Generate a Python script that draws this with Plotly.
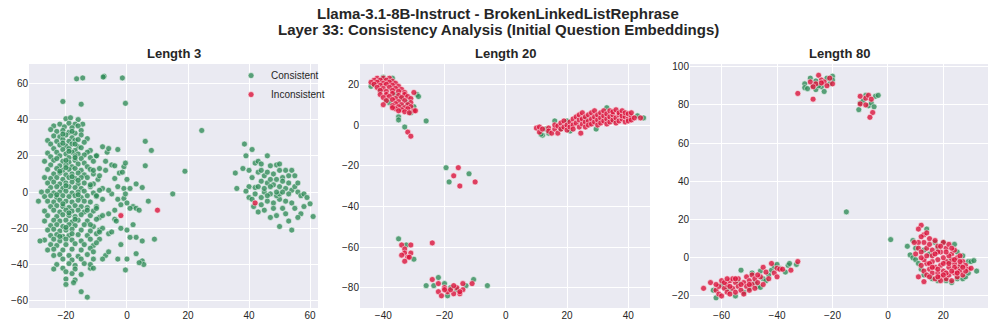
import plotly.graph_objects as go

# ---------------- DATA ----------------
panel_titles = ["Length 3", "Length 20", "Length 80"]
series_names = ["Consistent", "Inconsistent"]

len3_consistent = [
    # outliers
    (-16.5, 62.5), (-14.5, 63), (-7.5, 64), (-7.8, 63.5), (-1.5, 63), (-21, 50), (-15, 48.5), (-0.5, 49),
    (24.5, 34), (19, 11.5), (15, -1), (9, -26), (7, -5), (6, 28), (8, 23), (6, 14.5), (5, 2.5), (3, 4.5),
    # dense left cluster
    (-20, 40.5), (-18.5, 41), (-16, 40),
    (-24, 36.5), (-19, 38), (-17, 37.5), (-14.5, 37.5), (-22, 37.5),
    (-20.5, 36), (-18, 35.5), (-16, 36.5), (-25, 34.5),
    (-23, 33.5), (-21, 34), (-19, 33), (-15, 34), (-17, 32.5),
    (-24, 31), (-22, 30.5), (-20, 31.5), (-18, 30), (-15, 31.5), (-13, 29.5),
    (-26, 28.5), (-23, 28), (-21, 29), (-19, 28), (-17, 28.5), (-14, 27.5),
    (-25, 26.5), (-22, 26), (-20, 25.5), (-18, 26.5), (-16, 25), (-12, 23),
    (-24, 24), (-21, 23.5), (-19, 24), (-17, 23), (-15, 24.5), (-13, 22),
    (-26, 21.5), (-23, 22), (-20, 21), (-18, 22), (-16, 21), (-14, 20.5),
    (-25, 19.5), (-22, 20), (-19, 19), (-17, 20), (-15, 18.5), (-12, 19), (-10, 20),
    (-27, 17), (-24, 17.5), (-21, 17), (-19, 16.5), (-17, 17.5), (-14, 16), (-11, 17),
    (-25, 15), (-22, 14.5), (-20, 15), (-18, 14), (-16, 15.5), (-13, 14),
    (-26, 12.5), (-23, 13), (-21, 12), (-19, 12.5), (-17, 13), (-15, 12), (-12, 12.5), (-9, 13),
    (-24, 10), (-22, 10.5), (-20, 9.5), (-18, 10), (-16, 10.5), (-14, 9.5), (-11, 10),
    (-27, 8), (-25, 7.5), (-23, 8), (-21, 7), (-19, 8), (-17, 7.5), (-13, 8), (-9.5, 7),
    (-26, 5), (-24, 5.5), (-22, 4.5), (-20, 5), (-18, 5.5), (-16, 4.5), (-14, 5), (-11, 4.5),
    (-25, 2.5), (-23, 3), (-21, 2), (-19, 3), (-17, 2.5), (-15, 2), (-12, 3), (-8, 2),
    (-28, 0), (-26, 0.5), (-24, -0.5), (-22, 0), (-20, 0.5), (-18, -0.5), (-16, 0), (-14, 0.5), (-11, -0.5),
    (-27, -2.5), (-25, -2), (-23, -3), (-21, -2), (-19, -2.5), (-17, -2), (-15, -3), (-13, -2), (-10, -2.5),
    (-29, -5), (-26, -5), (-24, -5.5), (-22, -4.5), (-20, -5), (-18, -5.5), (-16, -4.5), (-14, -5), (-12, -5.5),
    (-25, -8), (-23, -7.5), (-21, -8), (-19, -8.5), (-17, -7.5), (-15, -8), (-13, -8.5), (-10, -8),
    (-27, -10.5), (-24, -10), (-22, -11), (-20, -10), (-18, -10.5), (-16, -10), (-14, -11), (-11, -10.5),
    (-26, -13), (-23, -13.5), (-21, -12.5), (-19, -13), (-17, -13.5), (-15, -12.5), (-12, -13), (-9, -14),
    (-27, -16), (-24, -15.5), (-22, -16), (-20, -15.5), (-18, -16.5), (-16, -15.5), (-13, -16), (-10, -15),
    (-25, -18.5), (-23, -18), (-21, -19), (-19, -18), (-17, -18.5), (-14, -18), (-11, -19),
    (-26, -21), (-24, -20.5), (-22, -21.5), (-20, -21), (-18, -20.5), (-15, -21), (-12, -21.5), (-9, -21),
    (-25, -24), (-23, -23.5), (-21, -24.5), (-19, -24), (-16, -23.5), (-13, -24), (-10, -23),
    (-27, -26.5), (-24, -26), (-22, -27), (-20, -26), (-18, -26.5), (-15, -27), (-12, -26),
    (-28.5, -27), (-25, -29), (-23, -29.5), (-20, -29), (-17, -28.5), (-14, -29), (-11, -29.5),
    (-26, -32), (-24, -31.5), (-21, -32), (-18, -31.5), (-15, -32), (-12, -31),
    (-24, -35), (-22, -34.5), (-19, -35), (-16, -35.5), (-13, -34.5),
    (-21, -37), (-18, -37.5), (-15, -37), (-11, -37),
    (-23, -40), (-19, -39.5), (-17, -40.5), (-14, -39.5),
    (-24, -42.5), (-21, -42), (-17, -42.5), (-12, -42),
    (-18, -45), (-15, -45.5), (-20, -44),
    (-20, -48), (-17, -48.5), (-20, -51), (-17.5, -50), (-15, -55), (-13, -58),
    # extra density in the core
    (-21, 27), (-19, 22.5), (-17, 19), (-20, 17.5), (-22, 11.5), (-18, 8.5), (-20, 3.5), (-16, -1.5),
    (-21, -6.5), (-19, -11.5), (-17, -15), (-20, -19.5), (-18, -23), (-22, -24.5), (-17, 26.5), (-23, 18.5),
    (-15, 8), (-23, -1.5), (-13, -10), (-21, 32), (-18, 33.5), (-16, 29), (-20, 13.5), (-16, 6.5),
    # sparse middle region
    (-10, 20), (-8, 25), (-7, 17), (-5, 15), (-3, 23.5), (-6.5, 22), (-6, 24), (-4, 14.5), (-1, 14), (-0.5, 16),
    (-9, 9), (-7, 12), (-4, 7.5), (-2.5, 10.5), (-1.5, 11), (-3, 3), (-1, 2), (0, 7), (1, 2), (-5, -1),
    (-3, -4), (-1, -3.5), (0, -6), (2, -8), (3, -9), (-0.5, -1), (1, -9), (-2, -7), (-6, -12), (-4, -15),
    (-3.5, -16), (-2, -20), (0, -21), (2, -18), (3, -25), (5, -27), (-6, -23), (-5, -22), (-8, -20), (-9, -26),
    (-2, -29), (-7, -35), (-6, -33), (-3, -37), (0, -37), (3, -34), (5, -38), (5.5, -40), (4, -39), (-0.5, -43),
    (4, -10), (1, -25), (-4, -10), (-8, -13), (-10, -28), (-11, -33), (-12, -40), (-11, -42), (-8, -37), (-9, -22),
    (-12, 4), (-10, -2), (-8, -4), (-6, 1), (-11, 12), (-9, 1), (-12, -18), (-10, -9),
    # right cluster
    (35.5, 10.5), (36, 2), (39, 20), (38.5, 26.5), (41, 23.5), (40, 12), (38, 13), (42, 16), (43, 17), (44, 15.5),
    (46, 20), (47, 14.5), (49, 15), (50, 15.5), (50, 12), (52, 12), (54, 12), (55, 9), (53, 5), (51, 8),
    (48, 10), (45, 9), (43, 11), (41, 8), (40, 3), (42, 2.5), (44, 6), (46, 5), (48, 4), (50, 3),
    (52, 2), (54, 1), (56, 0), (57, -2), (58, -1), (59, -3), (60, -6.5), (61, -13.5), (58, -8), (57, -12),
    (56, -14), (54, -21), (53, -16), (50, -19), (49, -13), (47, -14), (45, -10), (43, -11), (41.5, -8), (40, -3),
    (39, 0.5), (41, -4), (44, -3), (46, -5), (48, -6), (50, -4), (52, -5), (54, -6), (55, -9), (51, -9),
    (49, -2), (47, -1), (45, 0), (43, 3), (45, 2), (47, 7), (49, 7), (51, 6), (53, -1), (55, 3),
    (56, 5), (44, -7), (42, -1), (46, 11), (44, 12), (52, -12), (50, -1), (48, -9), (46, -2), (53, 9),
    (49, 0), (51, 0), (47, 3),
]
len3_inconsistent = [(-2, -13), (10, -10), (42, -6)]

len20_consistent = [
    (-44, 19), (-43, 20), (-41, 17), (-39, 12), (-38, 11), (-36, 15), (-34, 13), (-34, 9), (-29, 15), (-28.5, 14),
    (-35, 4), (-35, 2.5), (-33, -1), (-31, 6), (-26, 2), (-37, 23), (-32, 11), (-40, 23.5), (-30, 9),
    (12, -5), (11.5, -4.5), (16, 2), (18, -2), (21, -3), (29.5, -2), (33, 8.5), (43, 4.5), (45, 3.5), (13, -2),
    (26, 3), (35, 2), (20, 2), (14, -4),
    (-19.5, -21), (-18.5, -28), (-12, -24),
    (-35, -56), (-32.5, -59), (-30, -66),
    (-26, -79), (-22, -75), (-23.5, -79), (-10.5, -76), (-6, -79), (-20, -78), (-18, -80), (-13, -79), (-16, -81), (-19, -84),
]
len20_inconsistent = [
    (-42, 23), (-40, 23), (-38, 23),
    (-43, 22), (-41, 22), (-39, 22), (-37, 21.5),
    (-44, 21), (-42, 21), (-40, 20.5), (-38, 21), (-36, 20.5),
    (-43, 20), (-41, 19.5), (-39, 20), (-37, 19.5), (-35, 19),
    (-42, 18.5), (-40, 18), (-38, 18.5), (-36, 18), (-34, 17.5),
    (-41, 17), (-39, 16.5), (-37, 17), (-35, 16.5), (-33, 16),
    (-41, 15), (-39, 15), (-37, 15.5), (-35, 14.5), (-33, 15), (-30, 16),
    (-40, 13.5), (-38, 14), (-36, 13), (-34, 13.5), (-32, 14), (-31, 13),
    (-39, 12), (-37, 12.5), (-35, 11.5), (-33, 12), (-31, 11),
    (-36, 10.5), (-34, 10), (-32, 10),
    (-40, 10), (-37, 9.5), (-35, 9), (-33, 8.5), (-31, 9),
    (-36, 8), (-34, 7.5), (-32, 8), (-30, 7),
    (-37, 8.5), (-35, 7), (-33, 6.5), (-31.5, 6), (-29.5, 7),
    (-32, -3.5), (-31, -5.5),
    (10, -1.5), (11, -3.5), (11, -1), (12, -2), (14, -1.5), (14, -3), (15, -4), (16, -2), (16, 0),
    (17, -4), (17, -0.5), (18, 1), (18, -2), (19, 2), (19, -1), (20, 0), (20, -2.5), (21, 1.5), (21, -1),
    (22, 3), (22, 0), (22, -2), (23, 1), (23, 4), (24, -1), (24, 2.5), (24, 5), (25, 0.5), (25, 3),
    (25, 6), (26, 1.5), (26, 4), (26, -1), (27, 2), (27, 5), (27, 0), (28, 3), (28, 0.5), (28, 6),
    (29, 1.5), (29, 4), (29, 7), (30, 2.5), (30, 5), (30, 0), (31, 3.5), (31, 6), (31, 1), (32, 2),
    (32, 4.5), (32, 7), (33, 3), (33, 5.5), (33, 0.5), (34, 1.5), (34, 4), (34, 7), (35, 2.5), (35, 5),
    (35, 6.5), (36, 3.5), (36, 1), (36, 7.5), (37, 2), (37, 5), (37, 6), (38, 3), (38, 4.5), (38, 7),
    (39, 1.5), (39, 4), (39, 6), (40, 3), (40, 5.5), (40, 2), (41, 4), (41, 6), (41, 2.5), (42, 3.5),
    (44, 3.5), (24.5, -4),
    (-15.5, -21), (-17, -25), (-15, -30), (-10, -28),
    (-34, -59), (-33, -61), (-31, -59), (-33, -63), (-31, -63), (-32, -65), (-33, -67), (-34, -64),
    (-31.5, -65), (-24, -58),
    (-24, -76), (-22, -78), (-20, -80), (-22, -82), (-21, -84), (-19, -82), (-17, -83), (-18, -81),
    (-16, -80), (-14, -81), (-15, -83), (-14, -78), (-11, -78), (-20, -81), (-17, -79), (-15, -82),
]

len80_consistent = [
    (-30, 91), (-30, 89), (-28, 94), (-27, 90), (-26, 88), (-26, 92.5), (-24, 89.5), (-23, 87), (-22, 94),
    (-20, 95), (-20, 93), (-21, 91), (-29, 88.5), (-25, 90),
    (-10.5, 77.5), (-10, 81), (-8, 85), (-7, 79.5), (-6, 81), (-5, 79), (-4.5, 84.5), (-3.5, 85), (-9, 82),
    (-15, 24), (1, 9.5),
    (-63, -17), (-62, -21), (-60, -14), (-57, -17), (-55, -20), (-53, -6.5), (-52, -18), (-50, -16), (-49, -8),
    (-47, -15), (-46, -7), (-46, -15.5), (-45, -11), (-44, -12), (-43, -9), (-42, -6.5), (-41, -4.5), (-40, -3.5),
    (-37, -7.5), (-36, -4), (-35.5, -3), (-33, -3.5), (-39, -5.5), (-48, -13), (-54, -13), (-58, -16),
    (7, 6), (8, 1.5), (9, 0), (10, -1), (9, 9), (11, -3), (12, -6), (13, -9), (14, 15), (15, 2),
    (17, 8), (18, -12), (20, 8), (21, -12), (23, -13), (25, -11), (27, -11), (28, -10), (29, -8), (29, -2),
    (30, -2), (31, -1.5), (32, -7), (25, 3), (27, 1), (22, -2), (24, 7), (16, -11), (13, 4), (10, 5),
    (18, 5), (26, -5),
]
len80_inconsistent = [
    (-28, 92), (-25, 95.5), (-24, 93), (-23, 92), (-26, 91), (-27, 89.5), (-22, 90), (-21, 94), (-20, 91),
    (-24, 91.5), (-32.5, 86), (-27, 83),
    (-10, 84.5), (-10, 80.5), (-8, 83.5), (-8, 80), (-7, 85), (-6, 83), (-5.5, 76), (-6.5, 73.5),
    (-66.5, -16), (-64, -13), (-62, -17), (-61, -15), (-61, -19), (-60, -12), (-60, -20), (-59, -16), (-58, -14),
    (-58, -18), (-57, -12), (-57, -19), (-56, -16), (-55, -13), (-55, -18), (-54, -15), (-54, -11), (-53, -17),
    (-52, -13), (-52, -19), (-51, -15), (-51, -10), (-50, -12), (-50, -17), (-49, -14), (-49, -9), (-48, -11),
    (-48, -16), (-47, -13), (-46, -10), (-45, -14), (-45, -5), (-44, -7.5), (-43, -11), (-42, -3), (-41, -8),
    (-40, -10), (-40, -5.5), (-39, -6), (-38, -6), (-35, -6.5), (-32.5, -2), (-56, -11), (-62, -14), (-53, -14),
    (-59, -13), (-57, -15), (-55, -11), (-58, -11), (-50, -14), (-47, -9),
    (12, 17), (11, 15), (13, 12), (12, 11), (14, 13), (15, 10), (13, 8), (11, 8), (9.5, 8), (11, 5),
    (12, 3), (14, 5), (15, 7), (16, 4), (17, 9), (18, 6), (19, 3), (20, 8), (21, 5), (22, 7),
    (23, 2), (24, 4), (25, 0), (26, 1), (27, -2), (28, -4), (29, -6), (30, -5.5), (26, -4), (25, -6),
    (24, -3), (23, -1), (22, -5), (21, -2), (20, 0), (19, -4), (18, -1), (17, -5), (16, -2), (15, -6),
    (14, -3), (13, -1), (12, 0), (12, -4), (13, -7), (14, -9), (16, -8), (17, -11), (18, -8), (19, -10),
    (20, -7), (21, -11), (22, -9), (23, -12), (24, -8), (25, -10), (26, -7), (27, -9), (28, -7), (20, -3),
    (18, 3), (16, 1), (22, 1), (24, -1), (26, -2), (14, 1), (17, 2), (19, 6), (21, 3), (23, 5),
    (15, -3), (18, -6), (21, -8), (24, -5), (27, -5), (11, -10), (13, -12.5), (16, -5), (19, -12), (22, -3),
    (25, -8), (10, 2), (20, -9), (18, -10), (23, -7), (15, -10),
]

x_ranges = [(-32.1, 62.6), (-47.6, 47.1), (-71.4, 36.1)]
y_ranges = [(-64, 70.7), (-90, 30), (-26.3, 101.4)]

# ---------------- STYLE ----------------
GREEN = "#2E8B57"
RED = "#DC143C"
BG = "#EAEAF2"
TXT = "#262626"
FONT = "Liberation Sans, Arial, sans-serif"

x_domains = [(29 / 996, 318 / 996), (360 / 996, 650 / 996), (690 / 996, 988 / 996)]
y_domain = (1 - 308 / 330, 1 - 64 / 330)

panels = [
    (len3_consistent, len3_inconsistent),
    (len20_consistent, len20_inconsistent),
    (len80_consistent, len80_inconsistent),
]

fig = go.Figure()
for i, (cons, inc) in enumerate(panels):
    ax = "" if i == 0 else str(i + 1)
    for name, pts, col, op in ((series_names[0], cons, GREEN, 0.78), (series_names[1], inc, RED, 0.8)):
        fig.add_trace(go.Scatter(
            x=[p[0] for p in pts], y=[p[1] for p in pts], mode="markers", name=name,
            xaxis="x" + ax, yaxis="y" + ax, showlegend=(i == 0),
            marker=dict(size=6, color=col, opacity=op, line=dict(color="white", width=0.6)),
        ))

layout = dict(
    width=996, height=330, margin=dict(l=0, r=0, t=0, b=0, autoexpand=False),
    paper_bgcolor="white", plot_bgcolor=BG,
    font=dict(family=FONT, size=10, color=TXT),
    showlegend=True,
    legend=dict(x=0.232, y=0.815, xanchor="left", yanchor="top", bgcolor="rgba(0,0,0,0)",
                font=dict(size=10, color=TXT), tracegroupgap=0),
)
for i in range(3):
    ax = "" if i == 0 else str(i + 1)
    layout["xaxis" + ax] = dict(domain=list(x_domains[i]), range=list(x_ranges[i]), anchor="y" + ax,
                                dtick=20, showgrid=True, gridcolor="white", gridwidth=1, zeroline=False,
                                showline=False, ticks="", automargin=False, tickfont=dict(size=10, color=TXT))
    layout["yaxis" + ax] = dict(domain=list(y_domain), range=list(y_ranges[i]), anchor="x" + ax,
                                dtick=20, showgrid=True, gridcolor="white", gridwidth=1, zeroline=False,
                                showline=False, ticks="", automargin=False, tickfont=dict(size=10, color=TXT))
fig.update_layout(**layout)

ann = [
    dict(text="<b>Llama-3.1-8B-Instruct - BrokenLinkedListRephrase</b>", x=0.5, y=1 - 13 / 330),
    dict(text="<b>Layer 33: Consistency Analysis (Initial Question Embeddings)</b>", x=0.5, y=1 - 29 / 330),
]
for a in ann:
    fig.add_annotation(xref="paper", yref="paper", showarrow=False, xanchor="center", yanchor="middle",
                       font=dict(size=15, color=TXT, family=FONT), **a)
for i, t in enumerate(panel_titles):
    cx = (x_domains[i][0] + x_domains[i][1]) / 2
    fig.add_annotation(text="<b>%s</b>" % t, xref="paper", yref="paper", x=cx, y=1 - 53 / 330,
                       showarrow=False, xanchor="center", yanchor="middle",
                       font=dict(size=13, color=TXT, family=FONT))

fig.write_html("out.html", config={"displayModeBar": False},
               post_script="document.body.style.margin='0';document.body.style.overflow='hidden';")
